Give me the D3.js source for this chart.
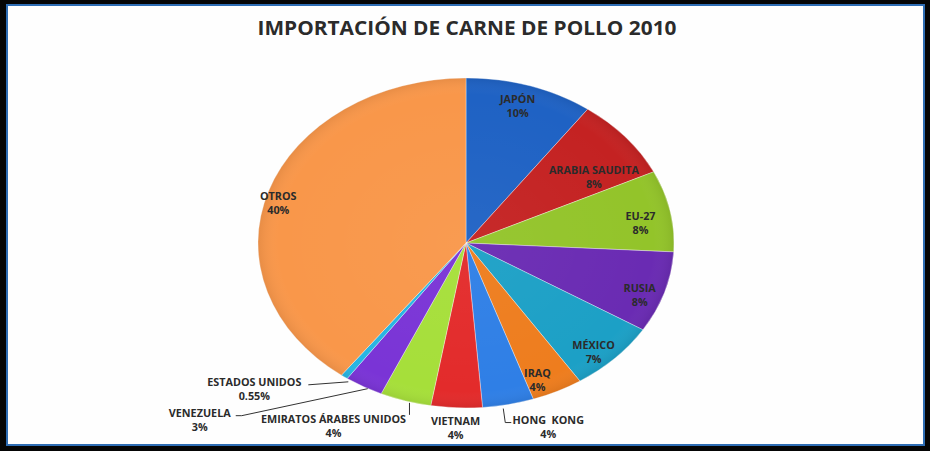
<!DOCTYPE html>
<html>
<head>
<meta charset="utf-8">
<script src="https://cdn.jsdelivr.net/npm/d3@7"></script>
<style>
    html, body { margin: 0; padding: 0; background: #000; }
    svg { display: block; }
    text { font-family: "Open Sans", "DejaVu Sans", sans-serif; font-weight: 700; fill: #2b2b2b; white-space: pre; }
</style>
</head>
<body>
<svg id="chart" width="930" height="451"></svg>
<script>
// data, clockwise from 12 o'clock
const countries = ["JAPÓN", "ARABIA SAUDITA", "EU-27", "RUSIA", "MÉXICO", "IRAQ", "HONG  KONG",
    "VIETNAM", "EMIRATOS ÁRABES UNIDOS", "VENEZUELA", "ESTADOS UNIDOS", "OTROS"];
const shares = [10, 8, 8, 8, 7, 4, 4, 4, 4, 3, 0.55, 40];
const sliceColors = ["#1f62c4", "#c42222", "#93c42a", "#6a2bb3", "#1ca0c6", "#ee7d1e", "#2f7fe6",
    "#e32b2b", "#a6df3a", "#7a34d6", "#27b5e3", "#f9974a"];
const title = "IMPORTACIÓN DE CARNE DE POLLO 2010";

const W = 930, H = 451;
const cx = 466, cy = 243, RX = 208, RY = 165;

// small nudges for the inside labels
const insideNudge = {
    "JAPÓN": [-4, 0], "ARABIA SAUDITA": [-11, 26], "EU-27": [-3, 8], "RUSIA": [1, 9],
    "MÉXICO": [-2, 9], "IRAQ": [-8, 8], "OTROS": [-16, 5]
};
// outside labels: offset of label centre from the slice edge, and leader bend points
const outside = {
    "HONG  KONG": { dx: 40, dy: 22, leader: [[-5, 4], [-3, 18], [3, 18]] },
    "VIETNAM": { dx: -1, dy: 20, leader: null },
    "EMIRATOS ÁRABES UNIDOS": { dx: -72, dy: 25, leader: [[4, 2], [4, 14]] },
    "VENEZUELA": { dx: -164, dy: 33, leader: [[4, 2], [-122, 29], [-128, 29]] },
    "ESTADOS UNIDOS": { dx: -90, dy: 12, leader: [[4, 5], [-36, 8]] }
};

const svg = d3.select("#chart");
const defs = svg.append("defs");

// frame: black outer, thin blue line, white card
svg.append("rect").attr("width", W).attr("height", H).attr("fill", "#050505");
svg.append("rect").attr("x", 6).attr("y", 4).attr("width", 919).attr("height", 442).attr("fill", "#2e6db4");
svg.append("rect").attr("x", 8).attr("y", 6).attr("width", 915).attr("height", 438).attr("fill", "#fefefe");

svg.append("text")
    .attr("x", 467).attr("y", 35)
    .attr("text-anchor", "middle")
    .attr("font-size", 20)
    .attr("textLength", 419)
    .attr("lengthAdjust", "spacingAndGlyphs")
    .attr("fill", "#1a1a1a")
    .text(title);

const data = countries.map((name, i) => ({ name, value: shares[i], color: sliceColors[i] }));

const pie = d3.pie().sort(null).value(d => d.value).startAngle(0).endAngle(2 * Math.PI);
const arcs = pie(data);
const arc = d3.arc().innerRadius(0).outerRadius(RX);

const shade = defs.append("radialGradient").attr("id", "shade")
    .attr("cx", "50%").attr("cy", "50%").attr("r", "50%");
shade.append("stop").attr("offset", "0%").attr("stop-color", "#fff").attr("stop-opacity", 0.04);
shade.append("stop").attr("offset", "90%").attr("stop-color", "#fff").attr("stop-opacity", 0);
shade.append("stop").attr("offset", "100%").attr("stop-color", "#000").attr("stop-opacity", 0.07);

const pieG = svg.append("g").attr("transform", `translate(${cx},${cy}) scale(1,${RY / RX})`);
pieG.selectAll("path.slice")
    .data(arcs)
    .join("path")
    .attr("class", "slice")
    .attr("d", arc)
    .attr("fill", d => d.data.color)
    .attr("stroke", "rgba(255,255,255,0.45)")
    .attr("stroke-width", 0.8)
    .attr("vector-effect", "non-scaling-stroke");
pieG.append("circle").attr("r", RX).attr("fill", "url(#shade)");

function onEllipse(angle, k) {
    return [cx + k * RX * Math.sin(angle), cy - k * RY * Math.cos(angle)];
}
function pct(v) {
    return (v % 1 === 0 ? v : v.toFixed(2)) + "%";
}

const labels = svg.append("g").attr("font-size", 10.8);

arcs.forEach(d => {
    const mid = (d.startAngle + d.endAngle) / 2;
    const name = d.data.name;
    let x, y;
    if (outside[name]) {
        const o = outside[name];
        const [ex, ey] = onEllipse(mid, 1);
        x = ex + o.dx;
        y = ey + o.dy;
        if (o.leader) {
            labels.append("path")
                .attr("d", d3.line()(o.leader.map(p => [ex + p[0], ey + p[1]])))
                .attr("fill", "none")
                .attr("stroke", "#333")
                .attr("stroke-width", 1);
        }
    } else {
        const [px, py] = onEllipse(mid, 0.87);
        const n = insideNudge[name] || [0, 0];
        x = px + n[0];
        y = py + n[1];
    }
    const t = labels.append("text").attr("text-anchor", "middle");
    t.append("tspan").attr("x", x).attr("y", y - 3).text(name);
    t.append("tspan").attr("x", x).attr("y", y + 11).text(pct(d.data.value));
});
</script>
</body>
</html>
